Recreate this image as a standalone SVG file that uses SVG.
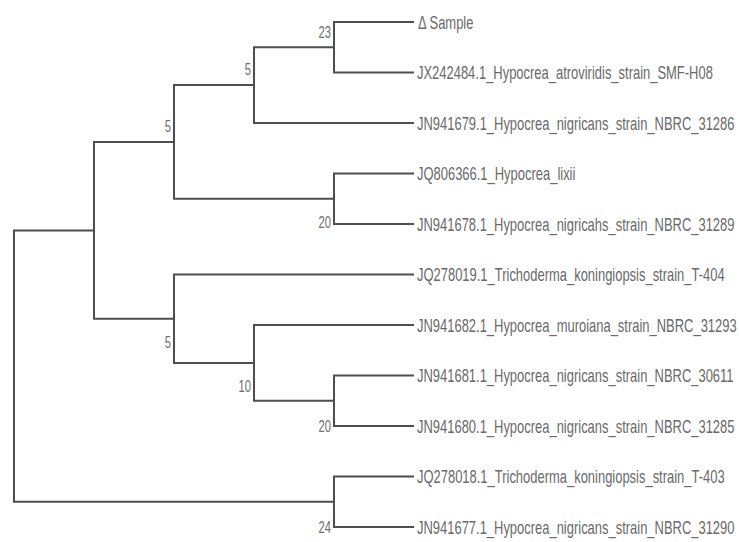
<svg xmlns="http://www.w3.org/2000/svg" width="739" height="542" viewBox="0 0 739 542">
<style>
.br{fill:none;stroke:#4d4d52;stroke-width:2;stroke-linecap:square}
.lf{font-family:"Liberation Sans",Arial,sans-serif;font-size:18px;fill:#6a6a6a}
.bs{font-family:"Liberation Sans",Arial,sans-serif;font-size:16px;fill:#6e6e6e;text-anchor:end}
</style>
<rect width="739" height="542" fill="#ffffff"/>
<g id="connectors">
<path class="br" d="M14,230.4V501.75M14,230.4H94M14,501.75H334"/>
<path class="br" d="M94,142V318.75M94,142H174M94,318.75H174"/>
<path class="br" d="M174,85V198.75M174,85H254M174,198.75H334"/>
<path class="br" d="M254,47.25V123M254,47.25H334M254,123H413"/>
<path class="br" d="M334,22V72.5M334,22H413M334,72.5H413"/>
<path class="br" d="M334,173.5V224M334,173.5H413M334,224H413"/>
<path class="br" d="M174,274.5V363M174,274.5H413M174,363H254"/>
<path class="br" d="M254,325V400.75M254,325H413M254,400.75H334"/>
<path class="br" d="M334,375.5V426M334,375.5H413M334,426H413"/>
<path class="br" d="M334,476.5V527M334,476.5H413M334,527H413"/>
</g>
<g id="node-23"><text class="bs" transform="translate(331,38) scale(0.7,1)">23</text></g>
<g id="node-5a"><text class="bs" transform="translate(251,75) scale(0.7,1)">5</text></g>
<g id="node-5b"><text class="bs" transform="translate(171,132) scale(0.7,1)">5</text></g>
<g id="node-20a"><text class="bs" transform="translate(331,228) scale(0.7,1)">20</text></g>
<g id="node-5c"><text class="bs" transform="translate(171,348) scale(0.7,1)">5</text></g>
<g id="node-10"><text class="bs" transform="translate(251,392) scale(0.7,1)">10</text></g>
<g id="node-20b"><text class="bs" transform="translate(331,432) scale(0.7,1)">20</text></g>
<g id="node-24"><text class="bs" transform="translate(331,533) scale(0.7,1)">24</text></g>
<g id="leaf-sample"><text class="lf" transform="translate(418,28.5) scale(0.72,1)">Δ Sample</text></g>
<g id="leaf-JX242484"><text class="lf" transform="translate(417,79) scale(0.72,1)">JX242484.1_Hypocrea_atroviridis_strain_SMF-H08</text></g>
<g id="leaf-JN941679"><text class="lf" transform="translate(417,129.5) scale(0.72,1)">JN941679.1_Hypocrea_nigricans_strain_NBRC_31286</text></g>
<g id="leaf-JQ806366"><text class="lf" transform="translate(417,180) scale(0.72,1)">JQ806366.1_Hypocrea_lixii</text></g>
<g id="leaf-JN941678"><text class="lf" transform="translate(417,230.5) scale(0.72,1)">JN941678.1_Hypocrea_nigricahs_strain_NBRC_31289</text></g>
<g id="leaf-JQ278019"><text class="lf" transform="translate(417,281) scale(0.72,1)">JQ278019.1_Trichoderma_koningiopsis_strain_T-404</text></g>
<g id="leaf-JN941682"><text class="lf" transform="translate(417,331.5) scale(0.72,1)">JN941682.1_Hypocrea_muroiana_strain_NBRC_31293</text></g>
<g id="leaf-JN941681"><text class="lf" transform="translate(417,382) scale(0.72,1)">JN941681.1_Hypocrea_nigricans_strain_NBRC_30611</text></g>
<g id="leaf-JN941680"><text class="lf" transform="translate(417,432.5) scale(0.72,1)">JN941680.1_Hypocrea_nigricans_strain_NBRC_31285</text></g>
<g id="leaf-JQ278018"><text class="lf" transform="translate(417,483) scale(0.72,1)">JQ278018.1_Trichoderma_koningiopsis_strain_T-403</text></g>
<g id="leaf-JN941677"><text class="lf" transform="translate(417,533.5) scale(0.72,1)">JN941677.1_Hypocrea_nigricans_strain_NBRC_31290</text></g>
</svg>
